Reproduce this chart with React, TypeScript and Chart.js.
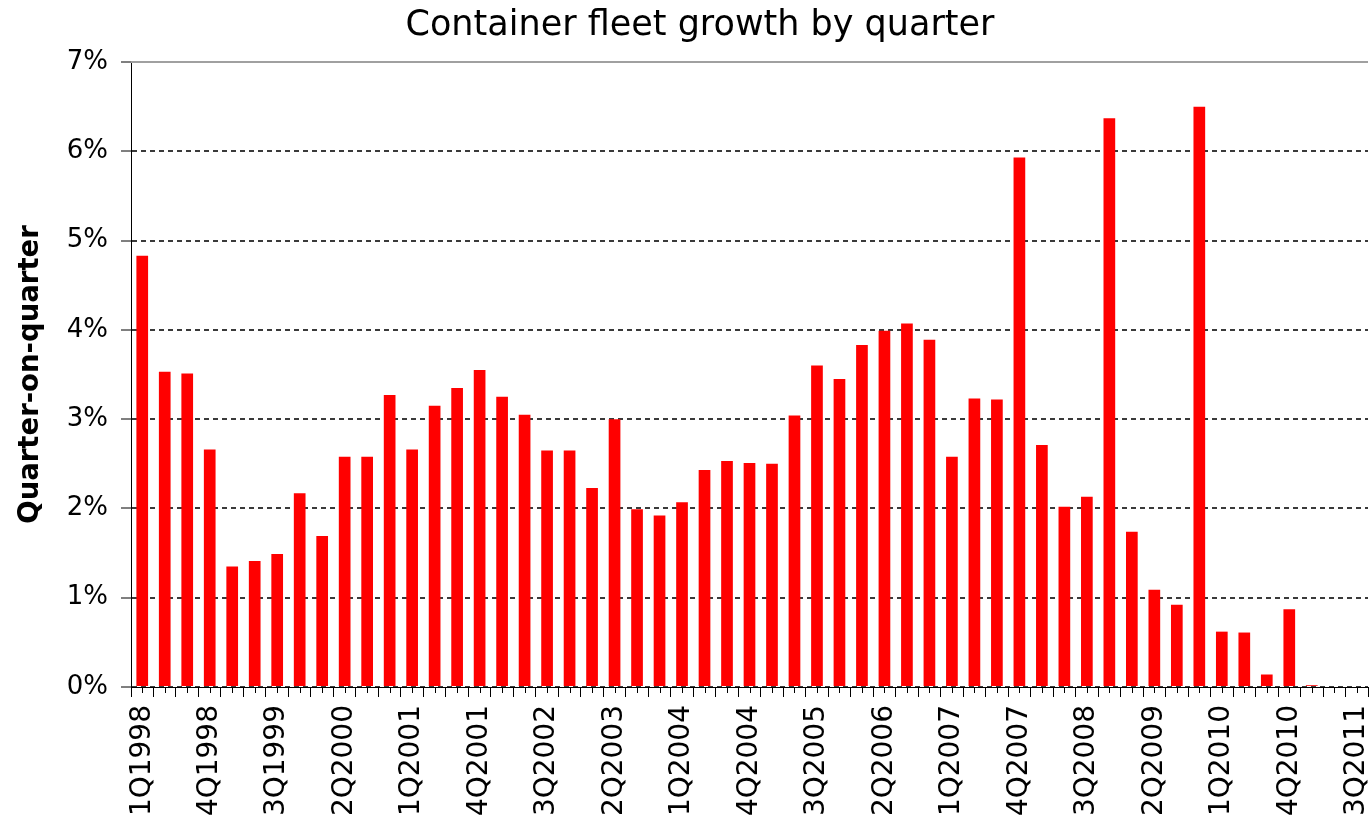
import React, { useEffect, useRef } from 'react';
import { Chart, registerables } from 'chart.js';

Chart.register(...registerables);

const TITLE = 'Container fleet growth by quarter';
const Y_TITLE = 'Quarter-on-quarter';

const quarters = [
  '1Q1998', '2Q1998', '3Q1998', '4Q1998',
  '1Q1999', '2Q1999', '3Q1999', '4Q1999',
  '1Q2000', '2Q2000', '3Q2000', '4Q2000',
  '1Q2001', '2Q2001', '3Q2001', '4Q2001',
  '1Q2002', '2Q2002', '3Q2002', '4Q2002',
  '1Q2003', '2Q2003', '3Q2003', '4Q2003',
  '1Q2004', '2Q2004', '3Q2004', '4Q2004',
  '1Q2005', '2Q2005', '3Q2005', '4Q2005',
  '1Q2006', '2Q2006', '3Q2006', '4Q2006',
  '1Q2007', '2Q2007', '3Q2007', '4Q2007',
  '1Q2008', '2Q2008', '3Q2008', '4Q2008',
  '1Q2009', '2Q2009', '3Q2009', '4Q2009',
  '1Q2010', '2Q2010', '3Q2010', '4Q2010',
  '1Q2011', '2Q2011', '3Q2011',
];

// Quarter-on-quarter growth, percent
const growth = [
  4.83, 3.53, 3.51, 2.66,
  1.35, 1.41, 1.49, 2.17,
  1.69, 2.58, 2.58, 3.27,
  2.66, 3.15, 3.35, 3.55,
  3.25, 3.05, 2.65, 2.65,
  2.23, 3.00, 1.99, 1.92,
  2.07, 2.43, 2.53, 2.51,
  2.50, 3.04, 3.60, 3.45,
  3.83, 3.99, 4.07, 3.89,
  2.58, 3.23, 3.22, 5.93,
  2.71, 2.02, 2.13, 6.37,
  1.74, 1.09, 0.92, 6.50,
  0.62, 0.61, 0.14, 0.87,
  0.02, 0, 0,
];

const Y_MIN = 0;
const Y_MAX = 7;
const Y_STEP = 1;
const LABEL_EVERY = 3;

const FONT = "'DejaVu Sans', Verdana, sans-serif";
const LEFT_PAD = 32;

const decorPlugin = {
  id: 'decor',
  afterDraw(chart: any) {
    const x = chart.scales.x;
    const ctx = chart.ctx;
    const area = chart.chartArea;
    ctx.save();
    // short ticks at category centres
    ctx.strokeStyle = '#000';
    ctx.lineWidth = 1;
    ctx.beginPath();
    for (let i = 0; i < quarters.length; i++) {
      const px = Math.round(x.getPixelForValue(i)) + 0.5;
      ctx.moveTo(px, x.top);
      ctx.lineTo(px, x.top + 6);
    }
    ctx.stroke();
    // grey plot-area top border
    ctx.strokeStyle = '#a0a0a0';
    ctx.lineWidth = 2;
    ctx.beginPath();
    ctx.moveTo(area.left, area.top);
    ctx.lineTo(area.right, area.top);
    ctx.stroke();
    ctx.restore();
  },
};

export default function App() {
  const canvasRef = useRef<HTMLCanvasElement | null>(null);

  useEffect(() => {
    const canvas = canvasRef.current;
    if (!canvas) return;
    Chart.defaults.font.family = FONT;
    Chart.defaults.color = '#000';

    const chart = new Chart(canvas, {
      type: 'bar',
      data: {
        labels: quarters,
        datasets: [
          {
            data: growth,
            backgroundColor: '#ff0000',
            borderWidth: 0,
            categoryPercentage: 1,
            barPercentage: 0.52,
          },
        ],
      },
      options: {
        responsive: false,
        animation: false,
        layout: { padding: { left: LEFT_PAD, right: 1, top: 0, bottom: 0 } },
        plugins: {
          legend: { display: false },
          tooltip: { enabled: false },
          title: {
            display: true,
            text: TITLE,
            color: '#000',
            font: { family: FONT, size: 35, weight: 'normal' },
            padding: { top: 5, bottom: 15 },
          },
        },
        scales: {
          x: {
            type: 'category',
            z: 1,
            offset: true,
            grid: {
              display: true,
              offset: true,
              drawOnChartArea: false,
              drawTicks: true,
              tickLength: 10,
              tickColor: '#000',
              color: '#000',
            },
            border: { display: true, color: '#000', width: 1 },
            ticks: {
              autoSkip: false,
              maxRotation: 90,
              minRotation: 90,
              padding: 8,
              color: '#000',
              font: { family: FONT, size: 28 },
              callback: (_v: any, i: number) => (i % LABEL_EVERY === 0 ? quarters[i] : ''),
            },
            afterFit: (s: any) => {
              s.height = 133;
              s.paddingLeft = 0;
              s.paddingRight = 0;
            },
          },
          y: {
            min: Y_MIN,
            max: Y_MAX,
            grid: {
              color: (c: any) => (c.tick && c.tick.value === Y_MAX ? 'rgba(0,0,0,0)' : '#3a3a3a'),
              lineWidth: 2,
              drawTicks: true,
              tickLength: 10,
              tickColor: '#000',
              tickWidth: 1,
            },
            border: { display: true, color: '#000', width: 1, dash: [5, 4] },
            ticks: {
              stepSize: Y_STEP,
              padding: 13,
              color: '#000',
              font: { family: FONT, size: 26 },
              callback: (v: any) => `${v}%`,
            },
            title: {
              display: true,
              text: Y_TITLE,
              color: '#000',
              font: { family: FONT, size: 27.5, weight: 'bold' },
              padding: { top: 14 - LEFT_PAD, bottom: 0 },
            },
            afterFit: (s: any) => {
              s.width = 131 - LEFT_PAD;
            },
          },
        },
      },
      plugins: [decorPlugin],
    });

    return () => {
      chart.destroy();
    };
  }, []);

  return (
    <div style={{ position: 'absolute', left: 0, top: 0, width: 1369, height: 820, background: '#fff' }}>
      <canvas ref={canvasRef} width={1369} height={820} />
    </div>
  );
}
